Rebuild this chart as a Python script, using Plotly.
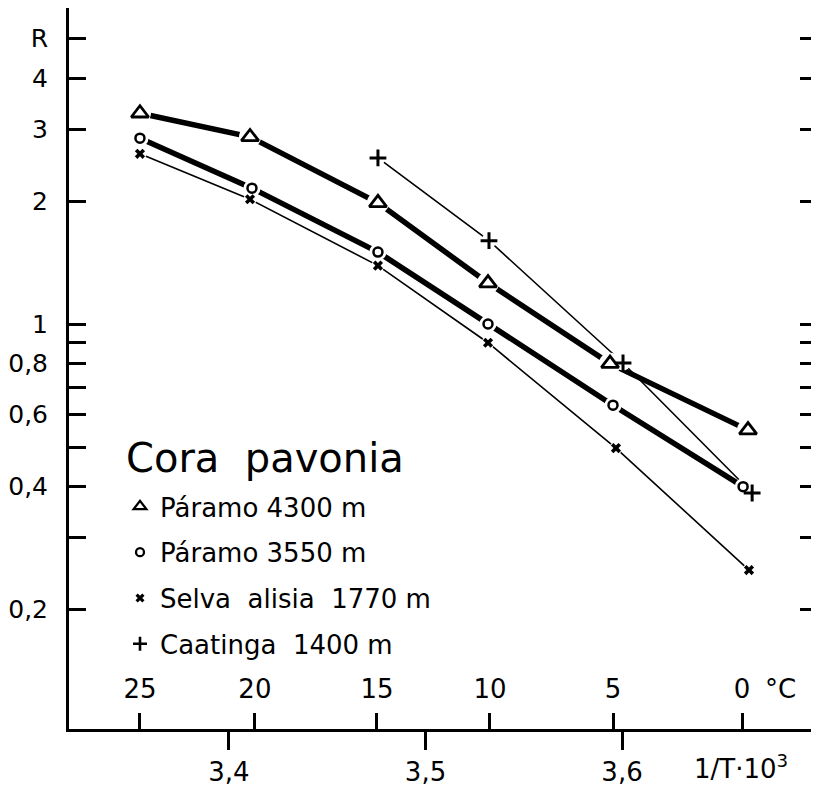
import plotly.graph_objects as go

# ---- data ----
invT_p4300 = [3.3547, 3.4107, 3.4758, 3.5318, 3.5939, 3.6641]
R_p4300 = [3.28, 2.87, 1.98, 1.26, 0.80, 0.55]

invT_p3550 = [3.3547, 3.4117, 3.4758, 3.5318, 3.5954, 3.6616]
R_p3550 = [2.85, 2.15, 1.50, 1.00, 0.633, 0.40]

invT_selva = [3.3547, 3.4107, 3.4758, 3.5318, 3.5969, 3.6646]
R_selva = [2.61, 2.02, 1.39, 0.90, 0.497, 0.25]

invT_caat = [3.4758, 3.5323, 3.6005, 3.6662]
R_caat = [2.55, 1.60, 0.803, 0.386]

names = ["Páramo 4300 m", "Páramo 3550 m", "Selva  alisia  1770 m", "Caatinga  1400 m"]
species = "Cora  pavonia"

temp_labels = ["25", "20", "15", "10", "5", "0"]
temp_tickvals = [3.3547, 3.4132, 3.4753, 3.5328, 3.5954, 3.6611]

invT_tickvals = [3.4, 3.5, 3.6]
invT_ticktext = ["3,4", "3,5", "3,6"]

R_tickvals = [0.2, 0.4, 0.6, 0.8, 1, 2, 3, 4, 5]
R_ticktext = ["0,2", "0,4", "0,6", "0,8", "1", "2", "3", "4", "R"]
R_minor_tickvals = [0.3, 0.5, 0.7, 0.9]

FONT = "DejaVu Sans"
TF = dict(size=26, family=FONT, color="black")
YTF = dict(size=25, family=FONT, color="black")

series = [
    dict(x=invT_p4300, y=R_p4300, lw=5.5, gap=22,
         mk=dict(symbol="triangle-up-open", size=15, line=dict(width=2.8, color="black"), color="black"),
         lg=dict(symbol="triangle-up-open", size=11, line=dict(width=2.3, color="black"), color="black")),
    dict(x=invT_p3550, y=R_p3550, lw=5.5, gap=17,
         mk=dict(symbol="circle-open", size=9, line=dict(width=2.5, color="black"), color="black"),
         lg=dict(symbol="circle-open", size=8, line=dict(width=2.3, color="black"), color="black")),
    dict(x=invT_selva, y=R_selva, lw=1.6, gap=13,
         mk=dict(symbol="x", size=9, line=dict(width=0), color="black"),
         lg=dict(symbol="x", size=8, line=dict(width=0), color="black")),
    dict(x=invT_caat, y=R_caat, lw=1.6, gap=15,
         mk=dict(symbol="cross-thin", size=12, line=dict(width=3, color="black"), color="black"),
         lg=dict(symbol="cross-thin", size=10, line=dict(width=2.6, color="black"), color="black")),
]

fig = go.Figure()

# lines
for s in series:
    fig.add_trace(go.Scatter(x=s["x"], y=s["y"], mode="lines",
                             line=dict(color="black", width=s["lw"]),
                             showlegend=False, hoverinfo="skip"))
# white gaps around points
for s in series:
    fig.add_trace(go.Scatter(x=s["x"], y=s["y"], mode="markers",
                             marker=dict(symbol="circle", size=s["gap"], color="white",
                                         line=dict(width=0)),
                             showlegend=False, hoverinfo="skip"))
# symbols
for s in series:
    fig.add_trace(go.Scatter(x=s["x"], y=s["y"], mode="markers",
                             marker=s["mk"], showlegend=False))
# legend entries
for i, (s, n) in enumerate(zip(series, names)):
    fig.add_trace(go.Scatter(x=[None], y=[None], mode="markers", marker=s["lg"],
                             name=n, legendgroup=f"g{i}", showlegend=True))

# secondary axis with temperature ticks
fig.add_trace(go.Scatter(x=[None], y=[None], xaxis="x2", showlegend=False))

# page body has an 8px margin: figure is sized so the plot lands where the reference has it
OFF = 8
W, H = 819 - OFF, 788 - OFF
ML, MR, MT, MB = 69 - OFF, 2, 0, 59
PW, PH = W - ML - MR, H - MT - MB
PX0, PY1 = 69, 729  # page pixel of plot left / bottom


def px(x):
    return (x - PX0) / PW


def py(y):
    return (PY1 - y) / PH


xr = [3.3186, 3.6992]
fig.update_layout(
    width=W, height=H,
    margin=dict(l=ML, r=MR, t=MT, b=MB, autoexpand=False),
    paper_bgcolor="white", plot_bgcolor="white",
    font=dict(family=FONT, color="black", size=26),
    xaxis=dict(range=xr, showgrid=False, zeroline=False, automargin=False,
               showline=True, linewidth=3, linecolor="black", mirror=True,
               ticks="outside", ticklen=18, tickwidth=2.5, tickcolor="black",
               tickvals=invT_tickvals, ticktext=invT_ticktext,
               ticklabelstandoff=0,
               tickfont=TF),
    xaxis2=dict(range=xr, overlaying="x", side="bottom", anchor="y", automargin=False,
                showgrid=False, zeroline=False, showline=False,
                ticks="inside", ticklen=16, tickwidth=2.5, tickcolor="black",
                tickvals=temp_tickvals, ticktext=temp_labels,
                ticklabelposition="inside", ticklabelstandoff=12,
                tickfont=TF),
    yaxis=dict(type="log", range=[-0.991, 0.7734], showgrid=False, zeroline=False,
               automargin=False,
               showline=True, linewidth=3, linecolor="black", mirror="ticks",
               ticks="inside", ticklen=17, tickwidth=2.5, tickcolor="black",
               tickvals=R_tickvals, ticktext=R_ticktext,
               minor=dict(tickvals=R_minor_tickvals, ticks="inside", ticklen=17,
                          tickwidth=2.5, tickcolor="black", showgrid=False),
               ticklabelstandoff=13,
               tickfont=YTF),
    legend=dict(x=px(120), y=py(483), xanchor="left", yanchor="top",
                bgcolor="rgba(0,0,0,0)", borderwidth=0,
                traceorder="grouped", tracegroupgap=9,
                font=dict(size=26, family=FONT, color="black")),
    annotations=[
        dict(text=species, xref="paper", yref="paper", x=px(124), y=py(458),
             showarrow=False, font=dict(size=40, family=FONT, color="black"),
             xanchor="left", yanchor="middle"),
        dict(text="°C", xref="paper", yref="paper", x=px(780), y=py(689),
             showarrow=False, font=TF, xanchor="center", yanchor="middle"),
        dict(text="1/T·10<sup>3</sup>", xref="paper", yref="paper", x=px(741),
             y=py(786), showarrow=False, font=dict(size=26, family=FONT, color="black"),
             xanchor="center", yanchor="bottom"),
    ],
)

fig.write_html("out.html")
